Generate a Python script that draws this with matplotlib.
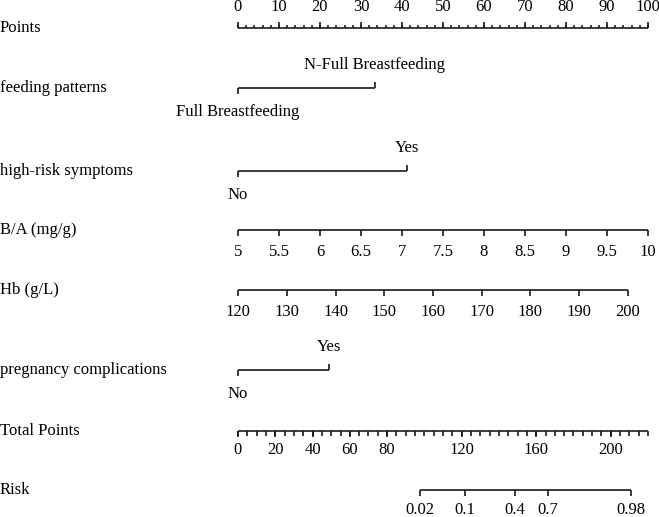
import numpy as np
import matplotlib
matplotlib.use("Agg")
import matplotlib.pyplot as plt

plt.rcParams['font.family'] = ['Liberation Serif', 'DejaVu Serif']
plt.rcParams['font.size'] = 12

# row labels (left column)
row_names = ["Points", "feeding patterns", "high-risk symptoms", "B/A (mg/g)",
             "Hb (g/L)", "pregnancy complications", "Total Points", "Risk"]

# Points scale
points_major = list(range(0, 101, 10))
points_minor = list(range(0, 101, 2))

# categorical predictors: level names and their points
feeding_levels = ["Full Breastfeeding", "N-Full Breastfeeding"]
feeding_points = [0, 33.4]
symptom_levels = ["No", "Yes"]
symptom_points = [0, 41.1]
pregnancy_levels = ["No", "Yes"]
pregnancy_points = [0, 22.3]

# continuous predictors
ba_values = [5, 5.5, 6, 6.5, 7, 7.5, 8, 8.5, 9, 9.5, 10]
ba_points = [0, 10, 20, 30, 40, 50, 60, 70, 80, 90, 100]
hb_values = [120, 130, 140, 150, 160, 170, 180, 190, 200]
hb_points = [0, 11.9, 23.8, 35.6, 47.5, 59.4, 71.3, 83.1, 95]

# total points scale
total_labels = [0, 20, 40, 60, 80, 120, 160, 200]
total_minor = list(range(0, 221, 5))
total_max = 220

# risk scale (position in total points)
risk_labels = ["0.02", "0.1", "0.4", "0.7", "0.98"]
risk_total = [97.4, 121.9, 148.8, 166.3, 210.9]

# layout (pixel rows)
W, H = 659, 517
x0, scale = 238, 4.1
row_y = [28, 88, 171, 230, 290, 370, 431, 490]
tick_fs = 12

fig = plt.figure(figsize=(W / 100, H / 100), dpi=100)
ax = fig.add_axes([0, 0, 1, 1])
ax.set_xlim(-x0 / scale, (W - x0) / scale)
ax.set_ylim(H, 0)
ax.axis("off")

lw = 1.2
col = "#1a1a1a"
left = -x0 / scale


def hline(a, b, y):
    ax.plot([a, b], [y, y], color=col, lw=lw, solid_capstyle="butt")


def tick(x, y, length):
    ax.plot([x, x], [y, y + length], color=col, lw=lw, solid_capstyle="butt")


for name, y in zip(row_names, row_y):
    ax.text(left, y, name, ha="left", va="center")

# Points
y = row_y[0]
hline(0, 100, y)
for v in points_minor:
    tick(v, y, -3)
for v in points_major:
    tick(v, y, -6)
    ax.text(v, y - 17, str(v), ha="center", va="baseline", fontsize=tick_fs)


def categorical(levels, pts, y):
    hline(pts[0], pts[1], y)
    tick(pts[0], y, 6)
    tick(pts[1], y, -6)
    ax.text(pts[0], y + 24, levels[0], ha="center", va="center")
    ax.text(pts[1], y - 23, levels[1], ha="center", va="center")


categorical(feeding_levels, feeding_points, row_y[1])
categorical(symptom_levels, symptom_points, row_y[2])


def continuous(vals, pts, y, off):
    hline(pts[0], pts[-1], y)
    for v, p in zip(vals, pts):
        tick(p, y, 6)
        ax.text(p, y + off, f"{v:g}", ha="center", va="center", fontsize=tick_fs)


continuous(ba_values, ba_points, row_y[3], 22)
continuous(hb_values, hb_points, row_y[4], 22)
categorical(pregnancy_levels, pregnancy_points, row_y[5])

# Total points
y = row_y[6]
k = 100 / total_max
hline(0, total_max * k, y)
for v in total_minor:
    tick(v * k, y, 5)
for v in total_labels:
    tick(v * k, y, 6)
    ax.text(v * k, y + 19, str(v), ha="center", va="center", fontsize=tick_fs)

# Risk
y = row_y[7]
hline(risk_total[0] * k, risk_total[-1] * k, y)
for lab, t in zip(risk_labels, risk_total):
    tick(t * k, y, 6)
    ax.text(t * k, y + 20, lab, ha="center", va="center", fontsize=tick_fs)

fig.savefig("out.png", dpi=100)
